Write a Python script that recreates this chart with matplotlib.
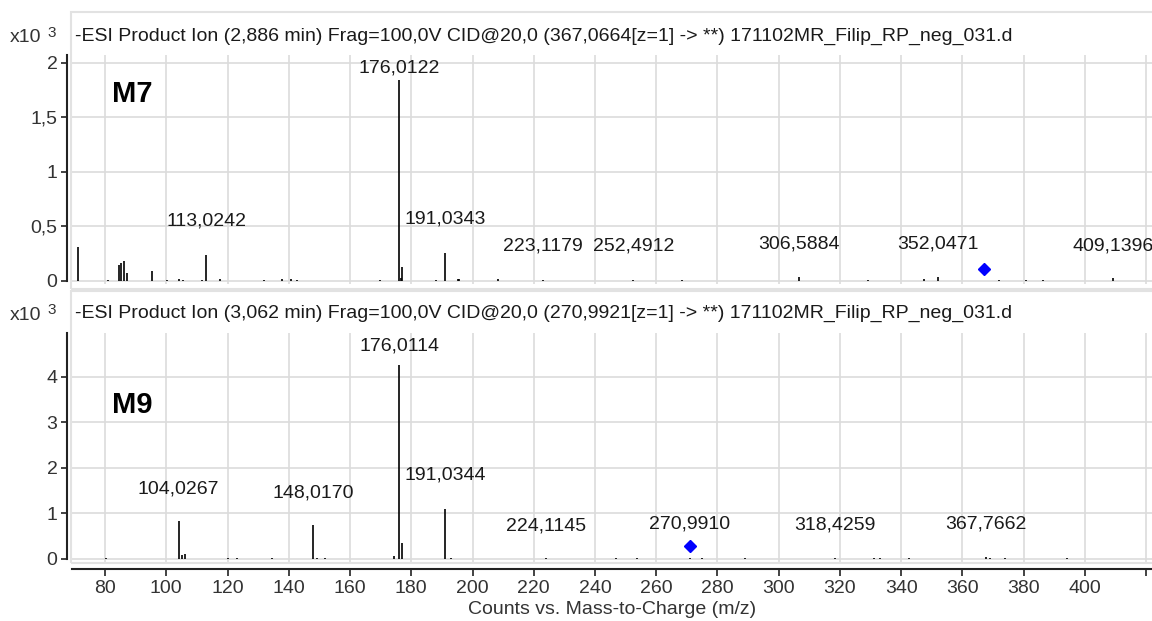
import numpy as np
import matplotlib.pyplot as plt
from matplotlib.patches import Rectangle

plt.rcParams['font.family'] = ['Liberation Sans', 'DejaVu Sans']

W, H = 1152, 621

# M7 product ion spectrum (counts x10^3)
m7_mz = [71.0, 81.0, 84.6, 85.2, 86.2, 87.3, 95.4, 100.2, 104.0, 105.4, 111.8,
         113.0242, 117.5, 131.9, 137.8, 140.6, 142.6, 169.8, 176.0122, 176.6,
         177.0, 188.1, 191.0343, 195.2, 195.7, 208.3, 223.1179, 252.4912, 268.3,
         306.5884, 329.0, 347.5, 352.0471, 371.9, 380.6, 386.3, 409.1396]
m7_int = [0.31, 0.01, 0.15, 0.165, 0.18, 0.075, 0.095, 0.01, 0.02, 0.012, 0.01,
          0.24, 0.015, 0.01, 0.02, 0.02, 0.012, 0.01, 1.845, 0.03,
          0.13, 0.01, 0.254, 0.02, 0.02, 0.015, 0.01, 0.012, 0.01,
          0.035, 0.01, 0.02, 0.035, 0.01, 0.01, 0.01, 0.03]
m7_labels = [176.0122, 113.0242, 191.0343, 223.1179, 252.4912, 306.5884, 352.0471, 409.1396]
m7_label_y = [1.91, 0.505, 0.53, 0.275, 0.275, 0.30, 0.30, 0.275]
m7_precursor = (367.0664, 0.113)
m7_title = "-ESI Product Ion (2,886 min) Frag=100,0V CID@20,0 (367,0664[z=1] -> **) 171102MR_Filip_RP_neg_031.d"

# M9 product ion spectrum (counts x10^3)
m9_mz = [80.3, 104.0267, 105.03, 106.0, 120.2, 123.2, 134.4, 148.0170, 149.3, 151.8,
         174.5, 176.0114, 177.01, 191.0344, 193.0, 224.1145, 246.8, 253.8, 270.991,
         274.8, 289.0, 318.4259, 331.0, 333.0, 342.5, 367.7662, 369.0, 373.9, 394.3]
m9_int = [0.02, 0.835, 0.08, 0.12, 0.02, 0.02, 0.02, 0.75, 0.03, 0.02,
          0.06, 4.26, 0.36, 1.10, 0.02, 0.02, 0.02, 0.02, 0.03,
          0.02, 0.02, 0.02, 0.02, 0.02, 0.02, 0.05, 0.03, 0.02, 0.02]
m9_labels = [176.0114, 104.0267, 148.0170, 191.0344, 224.1145, 270.9910, 318.4259, 367.7662]
m9_label_y = [4.59, 1.45, 1.36, 1.74, 0.62, 0.66, 0.64, 0.68]
m9_precursor = (270.9921, 0.285)
m9_title = "-ESI Product Ion (3,062 min) Frag=100,0V CID@20,0 (270,9921[z=1] -> **) 171102MR_Filip_RP_neg_031.d"

x_ticks = list(range(80, 421, 20))
m7_yticks = [0, 0.5, 1, 1.5, 2]
m9_yticks = [0, 1, 2, 3, 4]


def fx(p):
    return p / W


def fy(p):
    return 1 - p / H


def comma(v, nd=None):
    s = f"{v:.{nd}f}" if nd else f"{v:g}"
    return s.replace('.', ',')


fig = plt.figure(figsize=(W / 100, H / 100), dpi=100)

# light grey panel frames
for top, bot in [(12, 289), (291, 563)]:
    fig.patches.append(Rectangle((fx(71), fy(bot)), fx(1200 - 71), (bot - top) / H,
                                 transform=fig.transFigure, fill=False,
                                 edgecolor='#e2e2e2', lw=1.5, zorder=0))

ax1 = fig.add_axes([fx(72), fy(284), (1152 - 72) / W, (284 - 55) / H])
ax2 = fig.add_axes([fx(72), fy(562), (1152 - 72) / W, (562 - 333) / H])

panels = [
    (ax1, m7_mz, m7_int, m7_labels, m7_label_y, m7_precursor, m7_title, m7_yticks, (-0.028, 2.073), "M7", 0.795, 36),
    (ax2, m9_mz, m9_int, m9_labels, m9_label_y, m9_precursor, m9_title, m9_yticks, (-0.066, 4.967), "M9", 0.651, 313),
]

for ax, mz, inten, labs, lab_y, prec, title, yticks, ylim, name, name_y, title_y in panels:
    ax.set_xlim(69.2, 421.9)
    ax.set_ylim(*ylim)
    ax.set_xticks(x_ticks)
    ax.set_yticks(yticks)
    ax.set_yticklabels([comma(v) for v in yticks])
    ax.grid(True, color='#dcdcdc', lw=1.2)
    ax.set_axisbelow(True)
    for s in ['top', 'right', 'bottom']:
        ax.spines[s].set_visible(False)
    ax.spines['left'].set_position(('outward', 3.5))
    ax.spines['left'].set_bounds(0, ylim[1])
    ax.spines['left'].set_linewidth(1.5)
    ax.spines['left'].set_color('#222222')
    ax.tick_params(axis='y', length=4.5, width=1.2, color='#222222', pad=2.5,
                   labelsize=14, labelcolor='#333333')
    ax.tick_params(axis='x', bottom=False, labelbottom=False)

    ax.vlines(mz, 0, inten, color='black', lw=1.2)
    ax.plot([prec[0]], [prec[1]], marker='D', color='#0000ff', ms=6.5, linestyle='none')
    for m, y in zip(labs, lab_y):
        ax.text(m, y, comma(m, 4), ha='center', va='baseline', fontsize=14, color='#1a1a1a')
    ax.text(0.037, name_y, name, transform=ax.transAxes, fontsize=21,
            fontweight='bold', va='baseline', ha='left')

    fig.text(fx(75), fy(title_y), title, ha='left', va='center', fontsize=14, color='#1a1a1a')
    fig.text(fx(10), fy(title_y + 2), "x10", ha='left', va='center', fontsize=14, color='#333333')
    fig.text(fx(47), fy(title_y - 3), "3", ha='left', va='center', fontsize=11, color='#333333')

# x axis on the lower panel
ax2.spines['bottom'].set_visible(True)
ax2.spines['bottom'].set_position(('outward', 5))
ax2.spines['bottom'].set_linewidth(1.5)
ax2.spines['bottom'].set_color('#222222')
ax2.tick_params(axis='x', bottom=True, labelbottom=True, length=5, width=1.2,
                color='#222222', labelsize=14, labelcolor='#333333', pad=3)
ax2.set_xticklabels([str(t) for t in x_ticks[:-1]] + [""])
ax2.set_xlabel("Counts vs. Mass-to-Charge (m/z)", fontsize=14, color='#333333', labelpad=3)

fig.savefig("out.png", dpi=100)
